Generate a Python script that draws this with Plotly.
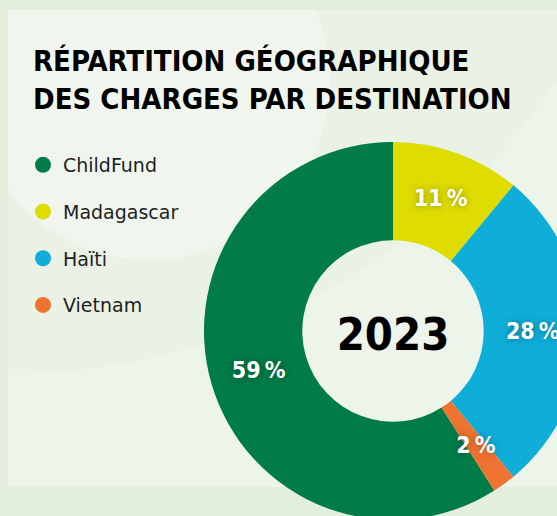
import plotly.graph_objects as go

# ---- data ----
labels = ["ChildFund", "Madagascar", "Haïti", "Vietnam"]
values = [59, 11, 28, 2]
colors = ["#017b48", "#dedc00", "#0eaed9", "#ee7331"]
year_label = "2023"
title_lines = ["RÉPARTITION GÉOGRAPHIQUE", "DES CHARGES PAR DESTINATION"]
small_share = 5  # slices below this % get their label from the inner overlay ring

# ---- canvas geometry (pixels) ----
W, H = 583, 521


def px(x):
    return x / W


def py(y):
    return 1 - y / H


cx, cy, R = 393, 331, 189
R2 = 150  # overlay ring used only to place labels of tiny slices

fig = go.Figure()

start = sum(values[1:]) / sum(values) * 360
label_font = dict(family="DejaVu Sans Condensed", size=23, color="white",
                  weight="bold", shadow="0px 0px 7px rgba(0,0,0,0.35)")

big_tmpl = ["%{value}\u202f%" if v >= small_share else "" for v in values]
small_tmpl = ["%{value}\u202f%" if v < small_share else "" for v in values]

fig.add_trace(go.Pie(
    labels=labels,
    values=values,
    marker=dict(colors=colors, line=dict(width=0)),
    hole=0.48,
    sort=False,
    direction="clockwise",
    rotation=start,
    domain=dict(x=[px(cx - R), px(cx + R)], y=[py(cy + R), py(cy - R)]),
    texttemplate=big_tmpl,
    textposition="inside",
    insidetextorientation="horizontal",
    textfont=label_font,
    title=dict(text=year_label, position="middle center",
               font=dict(family="DejaVu Sans Condensed", size=45, color="#000000",
                         weight="bold")),
    showlegend=False,
    hoverinfo="label+percent",
))

# transparent overlay: only carries the label of the tiny slice
fig.add_trace(go.Pie(
    labels=labels,
    values=values,
    marker=dict(colors=["rgba(0,0,0,0)"] * len(values), line=dict(width=0)),
    sort=False,
    direction="clockwise",
    rotation=start,
    domain=dict(x=[px(cx - R2), px(cx + R2)], y=[py(cy + R2), py(cy - R2)]),
    texttemplate=small_tmpl,
    textposition="inside",
    insidetextorientation="horizontal",
    textfont=label_font,
    showlegend=False,
    hoverinfo="skip",
))

# legend entries with round markers
for lab, col in zip(labels, colors):
    fig.add_trace(go.Scatter(
        x=[None], y=[None], mode="markers", name=lab, legendgroup=lab,
        marker=dict(symbol="circle", size=16, color=col),
        showlegend=True,
    ))

outer = "#e3eedd"
shapes = [
    dict(type="rect", xref="paper", yref="paper", x0=px(8), x1=1.0,
         y0=py(487), y1=py(10), fillcolor="#edf4e9", line=dict(width=0), layer="below"),
    dict(type="circle", xref="paper", yref="paper", x0=px(-675), x1=px(675),
         y0=py(375), y1=py(-975), fillcolor="#eaf2e5", line=dict(width=0), layer="below"),
    dict(type="circle", xref="paper", yref="paper", x0=px(150 - 180), x1=px(150 + 180),
         y0=py(80 + 180), y1=py(80 - 180), fillcolor="#f0f6ed", line=dict(width=0), layer="below"),
    # outer frame strips
    dict(type="rect", xref="paper", yref="paper", x0=0, x1=1, y0=py(10), y1=1,
         fillcolor=outer, line=dict(width=0), layer="below"),
    dict(type="rect", xref="paper", yref="paper", x0=0, x1=px(8), y0=0, y1=1,
         fillcolor=outer, line=dict(width=0), layer="below"),
    dict(type="rect", xref="paper", yref="paper", x0=0, x1=1, y0=0, y1=py(487),
         fillcolor=outer, line=dict(width=0), layer="below"),
]

fig.update_layout(
    width=W, height=H,
    margin=dict(l=0, r=0, t=0, b=0),
    paper_bgcolor=outer,
    plot_bgcolor="rgba(0,0,0,0)",
    xaxis=dict(visible=False), yaxis=dict(visible=False),
    shapes=shapes,
    title=dict(text="<br>".join(title_lines), x=px(33), xanchor="left", xref="paper",
               y=py(71), yanchor="top", yref="container",
               font=dict(family="DejaVu Sans Condensed", size=29, color="#000000", weight="bold")),
    legend=dict(x=px(23), xanchor="left", y=py(146), yanchor="top",
                font=dict(family="DejaVu Sans", size=19, color="#1e1e1e"),
                tracegroupgap=19, traceorder="grouped", bgcolor="rgba(0,0,0,0)"),
    uniformtext=dict(minsize=23, mode="show"),
    showlegend=True,
)

fig.write_html("out.html", config={"displayModeBar": False},
               post_script="document.body.style.margin='0';document.body.style.overflow='hidden';")
